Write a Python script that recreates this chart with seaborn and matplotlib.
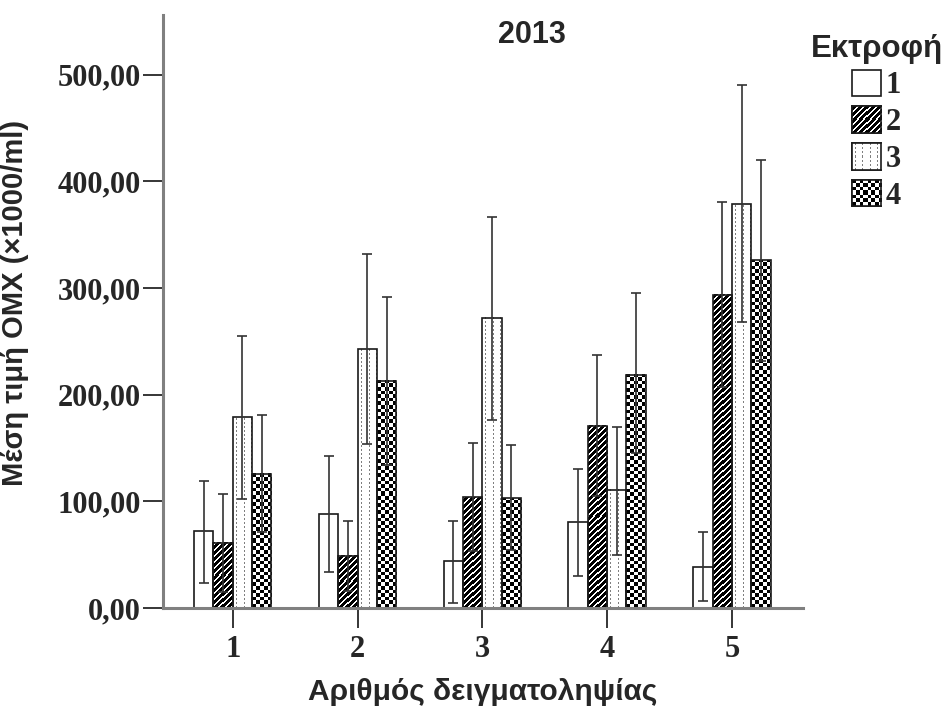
import numpy as np
import pandas as pd
import matplotlib
matplotlib.use('Agg')
import matplotlib.pyplot as plt
import matplotlib.patches as mpatches
import seaborn as sns

samplings = ['1', '2', '3', '4', '5']
farms = ['1', '2', '3', '4']

# mean per farm (Εκτροφή) for each sampling
mean_farm1 = [72, 88, 44, 81, 39]
mean_farm2 = [61, 49, 104, 171, 294]
mean_farm3 = [179, 243, 272, 111, 379]
mean_farm4 = [126, 213, 103, 219, 326]

# error bar ends
low_farm1 = [24, 34, 5, 30, 7]
low_farm2 = [15, 16, 54, 105, 207]
low_farm3 = [102, 154, 176, 50, 268]
low_farm4 = [71, 134, 55, 145, 232]
high_farm1 = [119, 143, 82, 130, 71]
high_farm2 = [107, 82, 155, 237, 381]
high_farm3 = [255, 332, 367, 170, 490]
high_farm4 = [181, 292, 153, 295, 420]

y_ticks = [0, 100, 200, 300, 400, 500]

means = [mean_farm1, mean_farm2, mean_farm3, mean_farm4]
lows = [low_farm1, low_farm2, low_farm3, low_farm4]
highs = [high_farm1, high_farm2, high_farm3, high_farm4]

df = pd.concat([
    pd.DataFrame({'sampling': samplings, 'farm': f, 'mean': m, 'low': lo, 'high': hi})
    for f, m, lo, hi in zip(farms, means, lows, highs)
], ignore_index=True)

sns.set_style('white')
plt.rcParams['font.family'] = ['Liberation Sans', 'DejaVu Sans']

EDGE = '#1a1a1a'


def stripe_img(h, w, period=6, black=4):
    r = np.arange(h)[:, None]
    c = np.arange(w)[None, :]
    val = np.where(((c - r) % period) < black, 0.0, 1.0)
    return np.repeat(val[..., None], 3, axis=2)


def dotted_img(h, w, step=7, dash=2):
    img = np.ones((h, w, 3))
    cols = (np.arange(w) % step) == step // 2
    rows = (np.arange(h) % (2 * dash)) < dash
    img[np.ix_(rows, cols)] = 0.5
    return img


def checker_img(h, w, cell=3.6):
    r = np.arange(h)[:, None]
    c = np.arange(w)[None, :]
    val = (np.floor(r / cell) + np.floor(c / cell)) % 2
    return np.repeat(val[..., None], 3, axis=2).astype(float)


textures = {1: stripe_img, 2: dotted_img, 3: checker_img}

fig, ax = plt.subplots(figsize=(9.47, 7.13), dpi=100)
fig.subplots_adjust(left=0.172, right=0.848, bottom=0.147, top=0.979)

sns.barplot(data=df, x='sampling', y='mean', hue='farm', order=samplings,
            hue_order=farms, palette={f: 'white' for f in farms},
            edgecolor=EDGE, linewidth=1.2, width=0.62, errorbar=None,
            legend=False, ax=ax)
bar_groups = list(ax.containers)

ax.set_xlim(-0.56, 4.57)
ax.set_ylim(0, 556)

# fill patterns of farms 2-4
for i, cont in enumerate(bar_groups):
    if i not in textures:
        continue
    for p in cont:
        x0, y0 = p.get_x(), p.get_y()
        x1, y1 = x0 + p.get_width(), y0 + p.get_height()
        (px0, py0), (px1, py1) = ax.transData.transform([(x0, y0), (x1, y1)])
        W, H = max(int(round(px1 - px0)), 1), max(int(round(py1 - py0)), 1)
        ax.imshow(textures[i](H, W), extent=(x0, x1, y0, y1), origin='lower',
                  interpolation='nearest', aspect='auto',
                  zorder=p.get_zorder() - 0.01)
        p.set_facecolor('none')

# error bars
for i, cont in enumerate(bar_groups):
    xs = [p.get_x() + p.get_width() / 2 for p in cont]
    m = np.array(means[i])
    yerr = [m - np.array(lows[i]), np.array(highs[i]) - m]
    ax.errorbar(xs, m, yerr=yerr, fmt='none', ecolor='#333333',
                elinewidth=1.2, capsize=3.3, capthick=1.2, zorder=5)

ax.set_xlim(-0.56, 4.57)
ax.set_ylim(0, 556)

ax.set_yticks(y_ticks)
ax.set_yticklabels([f'{v:.2f}'.replace('.', ',') for v in y_ticks],
                   fontfamily='Liberation Serif', fontweight='bold', fontsize=22)
ax.set_xticks(range(len(samplings)))
ax.set_xticklabels(samplings, fontfamily='Liberation Serif',
                   fontweight='bold', fontsize=22)
ax.tick_params(axis='y', direction='out', length=14.4, width=1.1,
               color='black', pad=1.5, left=True)
ax.tick_params(axis='x', direction='out', length=14.4, width=1.1,
               color='black', pad=5, bottom=True)

sns.despine(ax=ax)
for s in ('left', 'bottom'):
    ax.spines[s].set_color('#808080')
    ax.spines[s].set_linewidth(2.2)

ax.set_xlabel('Αριθμός δειγματοληψίας', fontsize=21.5, fontweight='bold', labelpad=10)
ax.set_ylabel('Μέση τιμή ΟΜΧ (×1000/ml)', fontsize=21, fontweight='bold')
ax.yaxis.set_label_coords(-0.209, 0.514)
ax.set_title('2013', x=0.577, y=0.953, pad=0, fontsize=22, fontweight='bold')

handles = [mpatches.Patch(facecolor='white', edgecolor=EDGE, linewidth=1.2, label=f)
           for f in farms]
leg = ax.legend(handles=handles, title='Εκτροφή', loc='upper left',
                bbox_to_anchor=(0.856, 0.953), bbox_transform=fig.transFigure,
                frameon=False, borderpad=0, borderaxespad=0,
                handlelength=0.95, handleheight=0.95,
                handletextpad=0.15, labelspacing=0.2,
                prop={'family': 'Liberation Serif', 'weight': 'bold', 'size': 22},
                title_fontproperties={'family': 'Liberation Sans',
                                      'weight': 'bold', 'size': 22.5})

fig.canvas.draw()
fw, fh = fig.bbox.width, fig.bbox.height
for idx, maker in textures.items():
    bb = leg.legend_handles[idx].get_window_extent()
    W, H = int(round(bb.width)), int(round(bb.height))
    lax = fig.add_axes([bb.x0 / fw, bb.y0 / fh, bb.width / fw, bb.height / fh])
    lax.imshow(maker(H, W), origin='lower', interpolation='nearest', aspect='auto')
    lax.set_xticks([])
    lax.set_yticks([])
    for s in lax.spines.values():
        s.set_visible(True)
        s.set_color(EDGE)
        s.set_linewidth(1.2)

fig.savefig('out.png', dpi=100)
